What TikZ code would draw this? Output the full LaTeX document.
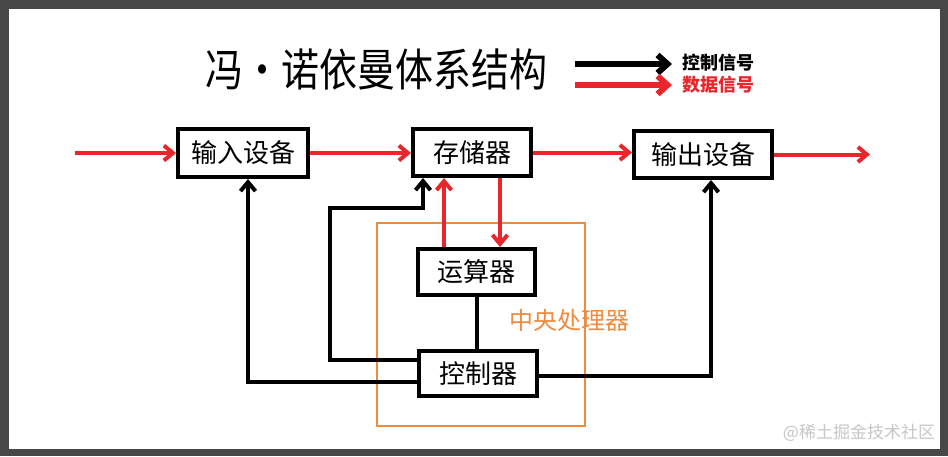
\documentclass[tikz,border=0pt]{standalone}
\usepackage{fontspec}
\setmainfont{Noto Sans CJK SC}
\usepackage{graphicx}
\usepackage{tikz}
\usetikzlibrary{arrows.meta}

\definecolor{datared}{HTML}{E8262B}
\definecolor{cpuorange}{HTML}{F08A3C}
\definecolor{frame}{HTML}{474747}

\begin{document}
\begin{tikzpicture}[x=0.5pt,y=-0.5pt,
    unit/.style={draw, line width=2pt, inner sep=0pt, font=\fontsize{13}{15}\selectfont},
    ctl/.style={line width=2pt, -{Straight Barb[length=4.5pt,width=7.5pt]}},
    dat/.style={line width=2pt, datared, -{Straight Barb[length=4.5pt,width=7.5pt]}}]

      % 背景（截图边框）
      \fill[frame] (0,0) rectangle (948,456);
      \fill[white] (9,9) rectangle (940,449);
      \useasboundingbox (0,0) rectangle (948,456);

      % 标题与图例
      \node (title) at (376,70) {\scalebox{1}[1.18]{\fontsize{19}{21}\selectfont 冯・诺依曼体系结构}};
      \coordinate (ctlA) at (575,64);
      \coordinate (ctlB) at (672,64);
      \coordinate (datA) at (575,85);
      \coordinate (datB) at (672,85);
      \draw[line width=3pt, -{Straight Barb[length=5pt,width=9pt]}] (ctlA) -- (ctlB);
      \draw[line width=3pt, datared, -{Straight Barb[length=5pt,width=9pt]}] (datA) -- (datB);
      \node[anchor=west, font=\fontsize{9}{10}\selectfont\bfseries] (ctlkey) at (675,63) {控制信号};
      \node[anchor=west, font=\fontsize{9}{10}\selectfont\bfseries, text=datared] (datkey) at (675,85) {数据信号};

      % 中央处理器
      \draw[cpuorange, line width=1pt] (377,223) rectangle (585,426);
      \node[text=cpuorange, font=\fontsize{12}{14}\selectfont] (cpu) at (569,320) {中央处理器};

      % 各部件
      \node[unit, minimum width=65pt, minimum height=24pt] (in) at (243,153) {输入设备};
      \node[unit, minimum width=59pt, minimum height=23.5pt] (mem) at (472,152.5) {存储器};
      \node[unit, minimum width=69pt, minimum height=23.5pt] (out) at (703,154.5) {输出设备};
      \node[unit, minimum width=58.5pt, minimum height=23pt] (alu) at (476.5,272) {运算器};
      \node[unit, minimum width=59pt, minimum height=22.5pt] (ctrl) at (478,373.5) {控制器};

      % 数据信号
      \coordinate (src) at (75,153);
      \coordinate (sink) at (870,154.5);
      \draw[dat] (src) -- (in.west);
      \draw[dat] (in.east) -- (in.east -| mem.west);
      \draw[dat] (mem.east) -- (mem.east -| out.west);
      \draw[dat] (out.east) -- (sink);
      \draw[dat] ([xshift=-16.25pt]alu.north) -- ([xshift=-16.25pt]alu.north |- mem.south);
      \draw[dat] ([xshift=11.75pt]mem.south -| alu.north) -- ([xshift=11.75pt]alu.north);

      % 控制信号
      \coordinate (bend) at (330,208);
      \draw[line width=2pt] (alu.south) -- (alu.south |- ctrl.north);
      \draw[ctl] ([yshift=6.75pt]ctrl.west) -| (bend) -| ([xshift=-24.5pt]mem.south);
      \draw[ctl] ([yshift=-4.25pt]ctrl.west) -| ([xshift=2.5pt]in.south);
      \draw[ctl] ([yshift=-1pt]ctrl.east) -| ([xshift=4pt]out.south);

      % 水印
      \node[text=gray!45, font=\fontsize{8.5}{9}\selectfont] (mark) at (859,433) {@稀土掘金技术社区};

\end{tikzpicture}
\end{document}
